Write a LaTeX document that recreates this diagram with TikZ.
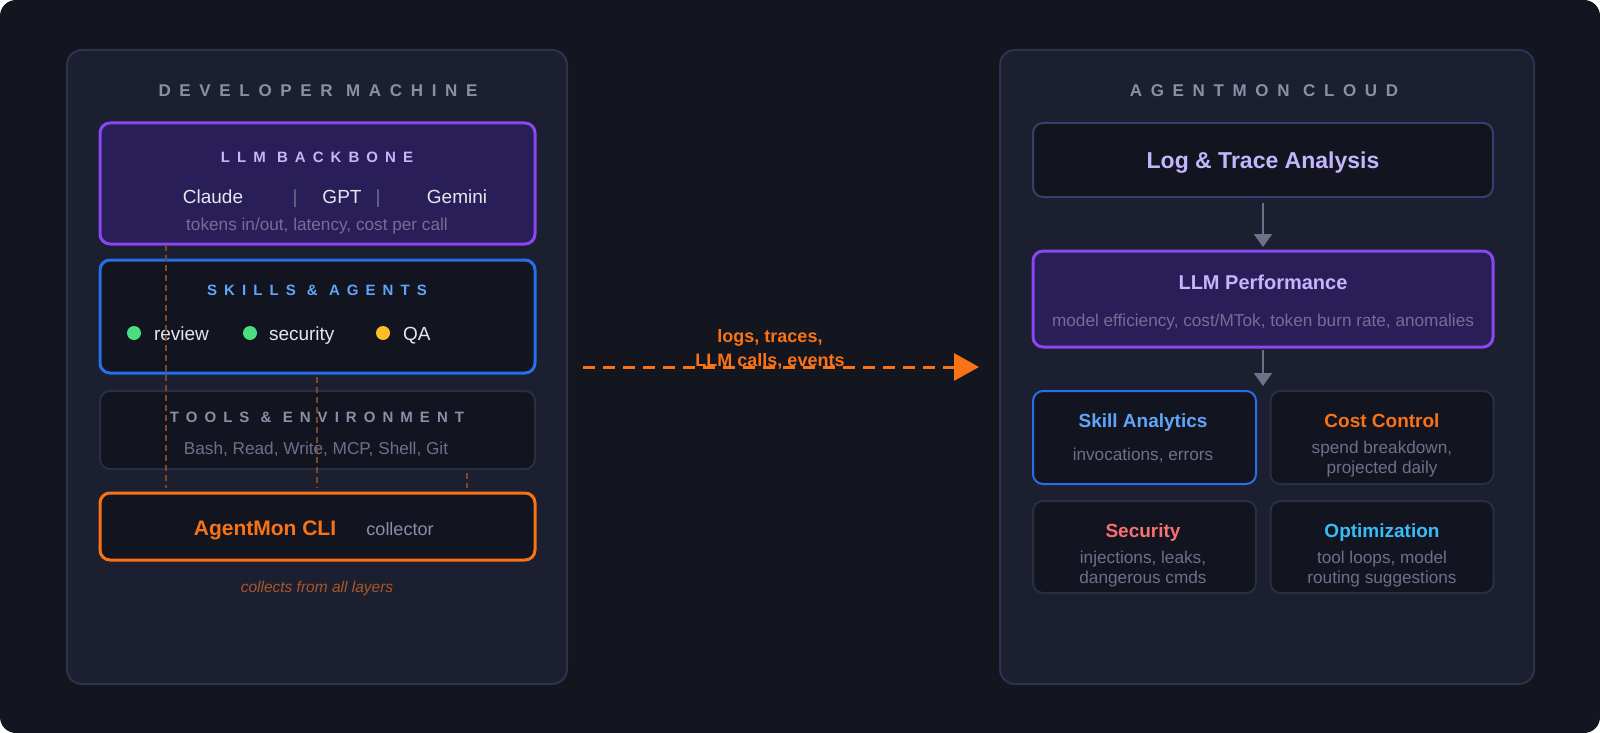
\documentclass[tikz,border=0pt]{standalone}
\usepackage{fontspec}
\setmainfont{Liberation Sans}
\newfontfamily\widecaps[LetterSpace=51]{Liberation Sans}
\newfontfamily\boxcaps[LetterSpace=47]{Liberation Sans}
\usetikzlibrary{arrows.meta}
\definecolor{pagebg}{RGB}{19,21,31}
\definecolor{panelbg}{RGB}{28,31,47}
\definecolor{panelline}{RGB}{46,50,78}
\definecolor{boxbg}{RGB}{18,20,31}
\definecolor{llmbg}{RGB}{41,30,88}
\definecolor{llmline}{RGB}{138,70,240}
\definecolor{skillline}{RGB}{40,110,232}
\definecolor{toolline}{RGB}{42,46,68}
\definecolor{logline}{RGB}{58,62,108}
\definecolor{clior}{RGB}{249,115,22}
\definecolor{titlegray}{RGB}{138,143,168}
\definecolor{subgray}{RGB}{108,113,138}
\definecolor{llmsub}{RGB}{118,108,150}
\definecolor{lavender}{RGB}{196,181,253}
\definecolor{skillblue}{RGB}{96,165,250}
\definecolor{lighttext}{RGB}{229,231,238}
\definecolor{okgreen}{RGB}{74,222,128}
\definecolor{warnyellow}{RGB}{251,191,36}
\definecolor{secred}{RGB}{248,113,113}
\definecolor{optcyan}{RGB}{56,189,248}
\definecolor{taprust}{RGB}{122,72,42}
\definecolor{rust}{RGB}{168,86,44}
\definecolor{arrowgray}{RGB}{108,114,138}
\begin{document}
\begin{tikzpicture}[x={(1pt,0pt)},y={(0pt,-1pt)},every node/.style={inner sep=0pt, outer sep=0pt},
  panel/.style={draw=panelline, line width=2pt, fill=panelbg, rounded corners=15pt, minimum width=500pt, minimum height=634pt},
  box/.style={draw=toolline, line width=2pt, fill=boxbg, rounded corners=10pt, minimum width=435pt},
  card/.style={box, minimum width=223pt, minimum height=93pt},
  paneltitle/.style={font=\widecaps\bfseries\fontsize{17}{20}\selectfont, text=titlegray},
  boxtitle/.style={font=\boxcaps\bfseries\fontsize{15}{18}\selectfont},
  cardtitle/.style={font=\bfseries\fontsize{19}{22}\selectfont, anchor=base},
  model/.style={font=\fontsize{19}{22}\selectfont, text=lighttext, anchor=base},
  sub/.style={font=\fontsize{17.2}{20}\selectfont, text=subgray, anchor=base},
  dot/.style={circle, minimum size=14pt},
  tap/.style={draw=taprust, line width=1.5pt, dash pattern=on 6pt off 4pt},
  flow/.style={draw=clior, line width=3pt, dash pattern=on 12pt off 8pt, -{Triangle[length=25pt,width=27pt]}},
  down/.style={draw=arrowgray, line width=2pt, -{Triangle[length=13pt,width=18pt]}}]
\useasboundingbox (0,0) rectangle (1600,733);
\fill[white] (0,0) rectangle (1600,733);
\fill[pagebg, rounded corners=16pt] (0,0) rectangle (1600,733);

\node[panel] (dev) at (317,367) {};
\node[panel, minimum width=534pt] (cloud) at (1267,367) {};
\node[paneltitle] (devtitle) at (318,91) {DEVELOPER MACHINE};
\node[paneltitle] (cloudtitle) at (1264,91) {AGENTMON CLOUD};

\node[box, draw=llmline, fill=llmbg, line width=3pt, minimum height=121pt] (llm) at (317.5,183.5) {};
\node[boxtitle, text=lavender] (llmtitle) at (317,157) {LLM BACKBONE};
\node[model] (claude) at (213,203) {Claude};
\node[model, text=subgray] (sep1) at (295,203) {|};
\node[model] (gpt) at (342,203) {GPT};
\node[model, text=subgray] (sep2) at (378,203) {|};
\node[model] (gemini) at (457,203) {Gemini};
\node[sub, text=llmsub] (llmsub) at (317,230) {tokens in/out, latency, cost per call};

\node[box, draw=skillline, line width=3pt, minimum height=113pt] (skills) at (317.5,316.5) {};
\node[boxtitle, text=skillblue] (skillstitle) at (317,290) {SKILLS \& AGENTS};
\node[dot, fill=okgreen] (dotreview) at (134,333) {};
\node[model, anchor=base west] (review) at (154,340) {review};
\node[dot, fill=okgreen] (dotsecurity) at (250,333) {};
\node[model, anchor=base west] (security) at (269,340) {security};
\node[dot, fill=warnyellow] (dotqa) at (383,333) {};
\node[model, anchor=base west] (qa) at (403,340) {QA};

\node[box, minimum height=78pt] (tools) at (317.5,430) {};
\node[boxtitle, text=titlegray] (toolstitle) at (317,417) {TOOLS \& ENVIRONMENT};
\node[sub] (toolssub) at (316,454) {Bash, Read, Write, MCP, Shell, Git};

\node[box, draw=clior, line width=3pt, minimum height=67pt] (cli) at (317.5,526.5) {};
\node[font=\bfseries\fontsize{21}{25}\selectfont, text=clior, anchor=base] (clititle) at (265,535) {AgentMon CLI};
\node[font=\fontsize{18}{21}\selectfont, text=titlegray, anchor=base] (clisub) at (400,535) {collector};
\node[font=\itshape\fontsize{15.5}{18}\selectfont, text=rust, anchor=base] (collects) at (317,592) {collects from all layers};

\draw[tap, shorten <=1pt, shorten >=5pt] ([xshift=66pt]llm.south west) -- ([xshift=66pt]cli.north west);
\draw[tap, shorten <=4pt, shorten >=5pt] ([xshift=217pt]skills.south west) -- ([xshift=217pt]cli.north west);
\draw[tap, shorten <=4pt, shorten >=5pt] ([xshift=367pt]tools.south west) -- ([xshift=367pt]cli.north west);

\draw[flow] ([xshift=16pt]dev.east) -- ([xshift=-21pt]cloud.west);
\node[font=\bfseries\fontsize{18}{21}\selectfont, text=clior, anchor=base] (flowlabel1) at (770,342) {logs, traces,};
\node[font=\bfseries\fontsize{18}{21}\selectfont, text=clior, anchor=base] (flowlabel2) at (770,366) {LLM calls, events};

\node[box, draw=logline, minimum width=460pt, minimum height=74pt] (log) at (1263,160) {};
\node[font=\bfseries\fontsize{23}{27}\selectfont, text=lavender, anchor=base] (logtitle) at (1263,168) {Log \& Trace Analysis};
\node[box, draw=llmline, fill=llmbg, line width=3pt, minimum width=460pt, minimum height=96pt] (perf) at (1263,299) {};
\node[cardtitle, text=lavender, font=\bfseries\fontsize{20}{24}\selectfont] (perftitle) at (1263,289) {LLM Performance};
\node[sub, text=llmsub] (perfsub) at (1263,326) {model efficiency, cost/MTok, token burn rate, anomalies};
\coordinate (gridtop) at (1263,391);
\draw[down, shorten <=6pt, shorten >=4pt] (log) -- (perf);
\draw[down, shorten <=3pt, shorten >=5pt] (perf) -- (gridtop);

\node[card, draw=skillline] (skill) at (1144.5,437.5) {};
\node[card] (cost) at (1382,437.5) {};
\node[card, minimum height=92pt] (sec) at (1144.5,547) {};
\node[card, minimum height=92pt] (optim) at (1382,547) {};
\node[cardtitle, text=skillblue] (skilltitle) at (1143,427) {Skill Analytics};
\node[sub] (skillsub) at (1143,460) {invocations, errors};
\node[cardtitle, text=clior] (costtitle) at (1382,427) {Cost Control};
\node[sub] (costsub1) at (1382,453) {spend breakdown,};
\node[sub] (costsub2) at (1382,473) {projected daily};
\node[cardtitle, text=secred] (sectitle) at (1143,537) {Security};
\node[sub] (secsub1) at (1143,563) {injections, leaks,};
\node[sub] (secsub2) at (1143,583) {dangerous cmds};
\node[cardtitle, text=optcyan] (optimtitle) at (1382,537) {Optimization};
\node[sub] (optimsub1) at (1382,563) {tool loops, model};
\node[sub] (optimsub2) at (1382,583) {routing suggestions};
\end{tikzpicture}
\end{document}
